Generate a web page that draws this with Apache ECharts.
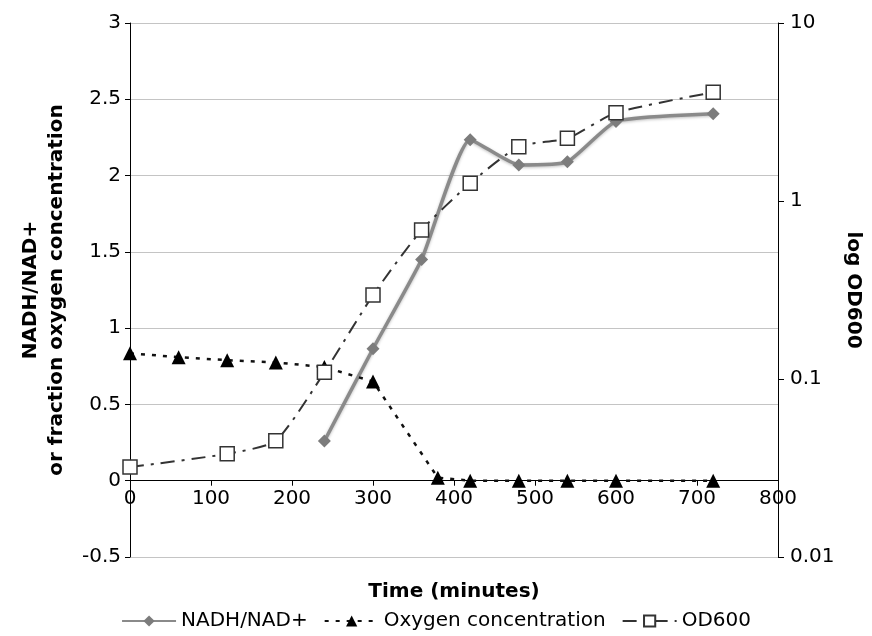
<!DOCTYPE html>
<html>
<head>
<meta charset="utf-8">
<title>NADH/NAD+, oxygen and OD600 over time</title>
<script src="https://cdn.jsdelivr.net/npm/echarts@6/dist/echarts.min.js"></script>
<style>
  html, body { margin: 0; padding: 0; background: #fff; }
  #chart { width: 872px; height: 636px; }
</style>
</head>
<body>
<div id="chart"></div>
<script>
// Sampling times (minutes) and measured values for each series
const nadhTimes = [240, 300, 360, 420, 480, 540, 600, 720];
const nadhRatio = [0.26, 0.865, 1.45, 2.235, 2.07, 2.09, 2.355, 2.405];

const oxygenTimes = [0, 60, 120, 180, 240, 300, 380, 420, 480, 540, 600, 720];
const oxygenFraction = [0.835, 0.81, 0.79, 0.775, 0.745, 0.65, 0.02, 0, 0, 0, 0, 0];

const odTimes = [0, 120, 180, 240, 300, 360, 420, 480, 540, 600, 720];
const od600 = [0.032, 0.038, 0.045, 0.109, 0.296, 0.687, 1.257, 2.02, 2.25, 3.13, 4.08];

// Axis ticks
const timeTicks = [0, 100, 200, 300, 400, 500, 600, 700, 800];
const leftTicks = [-0.5, 0, 0.5, 1, 1.5, 2, 2.5, 3];
const rightTicks = [0.01, 0.1, 1, 10];

const pair = (xs, ys) => xs.map((x, i) => [x, ys[i]]);
const FONT = 'DejaVu Sans';

// Plot box, in pixels
const GRID = { left: 130, right: 94, top: 23, bottom: 79 };
const plotHeight = 636 - GRID.top - GRID.bottom;
const leftMin = leftTicks[0];
const leftMax = leftTicks[leftTicks.length - 1];
// Lift the time axis from the bottom edge up to the zero line of the left scale
const zeroOffset = -plotHeight * (0 - leftMin) / (leftMax - leftMin);

const chart = echarts.init(document.getElementById('chart'), null, { renderer: 'canvas' });

chart.setOption({
  animation: false,
  backgroundColor: '#fff',
  textStyle: { fontFamily: FONT, color: '#000' },
  grid: Object.assign({ containLabel: false, outerBoundsMode: 'none' }, GRID),
  legend: {
    bottom: 0,
    left: 'center',
    itemWidth: 54,
    itemHeight: 14,
    itemGap: 16,
    textStyle: { fontFamily: FONT, fontSize: 20, color: '#000' },
    data: ['NADH/NAD+', 'Oxygen concentration', 'OD600']
  },
  graphic: [
    {
      type: 'text',
      x: 454,
      y: 592,
      style: {
        text: 'Time (minutes)',
        font: 'bold 20px "DejaVu Sans"',
        fill: '#000',
        textAlign: 'center',
        textVerticalAlign: 'middle'
      }
    }
  ],
  xAxis: {
    type: 'value',
    min: timeTicks[0],
    max: timeTicks[timeTicks.length - 1],
    interval: 100,
    position: 'bottom',
    offset: zeroOffset,
    axisLine: { show: true, onZero: false, lineStyle: { color: '#000', width: 1 } },
    axisTick: { show: true, length: 5, inside: false, lineStyle: { color: '#000' } },
    axisLabel: { fontFamily: FONT, fontSize: 20, color: '#000', margin: 8 },
    splitLine: { show: false }
  },
  yAxis: [
    {
      type: 'value',
      min: leftMin,
      max: leftMax,
      interval: 0.5,
      position: 'left',
      name: 'NADH/NAD+\nor fraction oxygen concentration',
      nameLocation: 'middle',
      nameGap: 60,
      nameMoveOverlap: false,
      nameTextStyle: { fontFamily: FONT, fontSize: 20, fontWeight: 'bold', color: '#000', lineHeight: 26 },
      axisLine: { show: true, lineStyle: { color: '#000', width: 1 } },
      axisTick: { show: true, length: 5, lineStyle: { color: '#000' } },
      axisLabel: { fontFamily: FONT, fontSize: 20, color: '#000', margin: 9 },
      splitLine: { show: true, lineStyle: { color: '#c4c4c4', width: 1 } }
    },
    {
      type: 'log',
      logBase: 10,
      min: rightTicks[0],
      max: rightTicks[rightTicks.length - 1],
      position: 'right',
      name: 'log OD600',
      nameLocation: 'middle',
      nameGap: 65,
      nameRotate: -90,
      nameMoveOverlap: false,
      nameTextStyle: { fontFamily: FONT, fontSize: 20, fontWeight: 'bold', color: '#000' },
      axisLine: { show: true, lineStyle: { color: '#000', width: 1 } },
      axisTick: { show: true, length: 6, lineStyle: { color: '#000' } },
      axisLabel: { fontFamily: FONT, fontSize: 20, color: '#000', margin: 12 },
      minorTick: { show: false },
      splitLine: { show: false }
    }
  ],
  series: [
    {
      name: 'NADH/NAD+',
      type: 'line',
      yAxisIndex: 0,
      data: pair(nadhTimes, nadhRatio),
      smooth: 0.16,
      symbol: 'diamond',
      symbolSize: 13,
      itemStyle: { color: '#7c7c7c' },
      lineStyle: { color: '#8a8a8a', width: 3.5, shadowColor: 'rgba(0,0,0,0.25)', shadowBlur: 3, shadowOffsetY: 1 },
      z: 3
    },
    {
      name: 'Oxygen concentration',
      type: 'line',
      yAxisIndex: 0,
      data: pair(oxygenTimes, oxygenFraction),
      symbol: 'triangle',
      symbolSize: 14,
      itemStyle: { color: '#000' },
      lineStyle: { color: '#111', width: 2.5, type: [4, 7] },
      z: 4
    },
    {
      name: 'OD600',
      type: 'line',
      yAxisIndex: 1,
      data: pair(odTimes, od600),
      smooth: 0.2,
      symbol: 'rect',
      symbolSize: 14,
      itemStyle: { color: '#fff', borderColor: '#333', borderWidth: 1.5 },
      lineStyle: { color: '#333', width: 2, type: [14, 7, 3, 7] },
      z: 5
    }
  ]
});
</script>
</body>
</html>
